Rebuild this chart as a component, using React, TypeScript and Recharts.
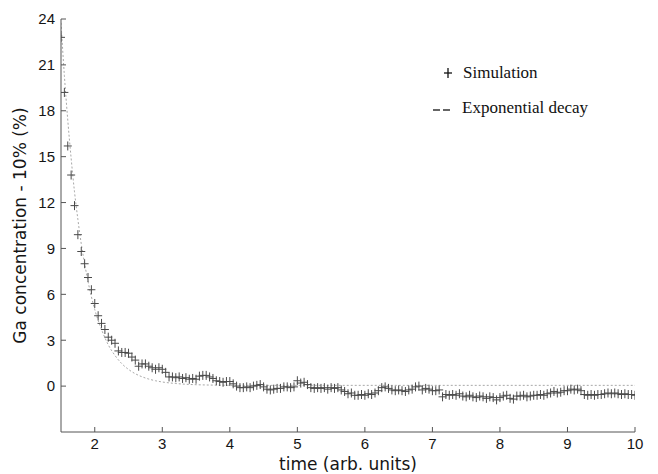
import React from 'react';
import { ComposedChart, XAxis, YAxis, Scatter, Line, Legend, Label } from 'recharts';

const X_TICKS = [2, 3, 4, 5, 6, 7, 8, 9, 10];
const Y_TICKS = [0, 3, 6, 9, 12, 15, 18, 21, 24];

// Simulation: sampled every 0.05 time units starting at 1.5
const SIM_START = 1.5;
const SIM_STEP = 0.05;
const simValues = [
  22.8, 19.2, 15.7, 13.8, 11.8, 9.9, 8.8, 8.0, 7.1, 6.3,
  5.4, 4.6, 4.1, 3.7, 3.2, 3.0, 2.8, 2.3, 2.2, 2.2,
  2.15, 1.9, 1.7, 1.3, 1.45, 1.45, 1.3, 1.2, 1.1, 1.2,
  1.1, 0.9, 0.6, 0.6, 0.55, 0.6, 0.5, 0.55, 0.45, 0.5,
  0.45, 0.65, 0.7, 0.7, 0.6, 0.5, 0.35, 0.3, 0.25, 0.3,
  0.3, 0.15, 0.0,
  -0.1, -0.1, -0.05, -0.1, 0.0, 0.05, 0.1, -0.05, -0.2, -0.25,
  -0.2, -0.15, -0.15, -0.05, -0.05, -0.1, -0.05, 0.35, 0.2, 0.25,
  0.1, -0.1, -0.15, -0.1, -0.15, -0.1, -0.2, -0.1, -0.15, -0.1,
  -0.25, -0.35, -0.5, -0.45, -0.6, -0.6, -0.55, -0.6, -0.5, -0.55,
  -0.45, -0.3, -0.1, -0.05, -0.15, -0.25, -0.3, -0.25, -0.3, -0.35,
  -0.25, -0.2, -0.05, 0.0, -0.25, -0.15, -0.2, -0.3, -0.3, -0.25,
  -0.7, -0.55, -0.6, -0.55, -0.6, -0.5, -0.65, -0.7, -0.6, -0.7,
  -0.75, -0.65, -0.7, -0.8, -0.7, -0.75, -0.9, -0.75, -0.65, -0.6,
  -0.8, -0.85, -0.65, -0.65, -0.6, -0.7, -0.65, -0.6, -0.6, -0.55,
  -0.6, -0.5, -0.45, -0.35, -0.45, -0.4, -0.3, -0.3, -0.2, -0.25,
  -0.2, -0.3, -0.55, -0.6, -0.55, -0.6, -0.55, -0.55, -0.5, -0.45,
  -0.5, -0.45, -0.5, -0.55, -0.5, -0.55, -0.55, -0.6,
];

// Exponential decay fit
const fitTimes = [1.5, 1.55, 1.6, 1.65, 1.7, 1.75, 1.8, 1.85, 1.9, 1.95, 2.0, 2.1, 2.2, 2.3, 2.4, 2.5, 2.6, 2.7, 2.8, 2.9, 3.0, 3.2, 3.4, 3.7, 4.2, 10];
const fitValues = [23.75, 20.3, 17.4, 14.9, 12.7, 10.9, 9.3, 8.0, 6.85, 5.85, 5.0, 3.7, 2.7, 2.0, 1.47, 1.09, 0.81, 0.61, 0.46, 0.35, 0.27, 0.17, 0.11, 0.07, 0.05, 0.05];

const simData = simValues.map((v, i) => ({ t: Math.round((SIM_START + i * SIM_STEP) * 100) / 100, v }));
const fitData = fitTimes.map((t, i) => ({ t, v: fitValues[i] }));

const AXIS_COLOR = '#555';
const TICK_STYLE = { fontFamily: '"Liberation Sans", Arial, sans-serif', fontSize: 15, fill: '#151515' };
const TITLE_STYLE = { fontFamily: '"DejaVu Sans", sans-serif', fontSize: 17, fill: '#151515' };

const PlusShape = (props: any) => {
  const { cx, cy } = props;
  if (cx == null || cy == null) return null;
  return (
    <g>
      <line x1={cx - 4} x2={cx + 4} y1={cy} y2={cy} stroke="#4a4a4a" strokeWidth={1} />
      <line x1={cx} x2={cx} y1={cy - 4.5} y2={cy + 4.5} stroke="#4a4a4a" strokeWidth={1} />
    </g>
  );
};

const legendText: React.CSSProperties = {
  position: 'absolute',
  fontFamily: '"Liberation Serif", "Times New Roman", serif',
  fontSize: 17,
  lineHeight: '20px',
  color: '#111',
  whiteSpace: 'nowrap',
};

const LegendContent = () => (
  <div style={{ position: 'relative', width: 650, height: 0 }}>
    <svg style={{ position: 'absolute', left: 434, top: 59 }} width={12} height={12}>
      <line x1={2} x2={10} y1={6} y2={6} stroke="#111" strokeWidth={1.3} />
      <line x1={6} x2={6} y1={1} y2={11} stroke="#111" strokeWidth={1.3} />
    </svg>
    <div style={{ ...legendText, left: 455, top: 55 }}>Simulation</div>
    <svg style={{ position: 'absolute', left: 424, top: 97 }} width={20} height={10}>
      <line x1={1} x2={8} y1={5} y2={5} stroke="#111" strokeWidth={1.3} />
      <line x1={11} x2={18} y1={5} y2={5} stroke="#111" strokeWidth={1.3} />
    </svg>
    <div style={{ ...legendText, left: 454, top: 90 }}>Exponential decay</div>
  </div>
);

export default function App() {
  return (
    <div style={{ width: 650, height: 466, background: '#fff' }}>
      <ComposedChart width={650} height={466} margin={{ top: 11, right: 23, bottom: 0, left: 0 }}>
        <XAxis
          xAxisId="b"
          dataKey="t"
          type="number"
          domain={[1.5, 10]}
          ticks={X_TICKS}
          allowDataOverflow
          height={42}
          stroke={AXIS_COLOR}
          tickSize={-5}
          tickMargin={11}
          tick={TICK_STYLE}
        >
          <Label value="time (arb. units)" position="insideBottom" offset={4} style={TITLE_STYLE} />
        </XAxis>
        <XAxis
          xAxisId="top"
          orientation="top"
          dataKey="t"
          type="number"
          domain={[1.5, 10]}
          ticks={X_TICKS}
          allowDataOverflow
          height={0}
          stroke={AXIS_COLOR}
          tickSize={-5}
          tick={false}
        />
        <YAxis
          yAxisId="l"
          type="number"
          domain={[-3, 24]}
          ticks={Y_TICKS}
          allowDataOverflow
          width={53}
          stroke={AXIS_COLOR}
          tickSize={-5}
          tickMargin={11}
          tick={TICK_STYLE}
        >
          <Label
            value="Ga concentration - 10% (%)"
            angle={-90}
            position="insideLeft"
            offset={12}
            style={{ ...TITLE_STYLE, textAnchor: 'middle' }}
          />
        </YAxis>
        <YAxis
          yAxisId="r"
          orientation="right"
          type="number"
          domain={[-3, 24]}
          ticks={Y_TICKS}
          allowDataOverflow
          width={0}
          stroke={AXIS_COLOR}
          tickSize={-5}
          tick={false}
        />
        <Line
          xAxisId="b"
          yAxisId="l"
          data={fitData}
          dataKey="v"
          type="monotone"
          stroke="#a8a8a8"
          strokeWidth={1}
          strokeDasharray="2 2"
          dot={false}
          activeDot={false}
          isAnimationActive={false}
        />
        <Scatter
          xAxisId="b"
          yAxisId="l"
          data={simData}
          dataKey="v"
          shape={PlusShape}
          isAnimationActive={false}
        />
        <Legend
          layout="horizontal"
          verticalAlign="middle"
          align="center"
          wrapperStyle={{ left: 0, top: 0, width: 650, height: 0 }}
          content={LegendContent}
        />
      </ComposedChart>
    </div>
  );
}
